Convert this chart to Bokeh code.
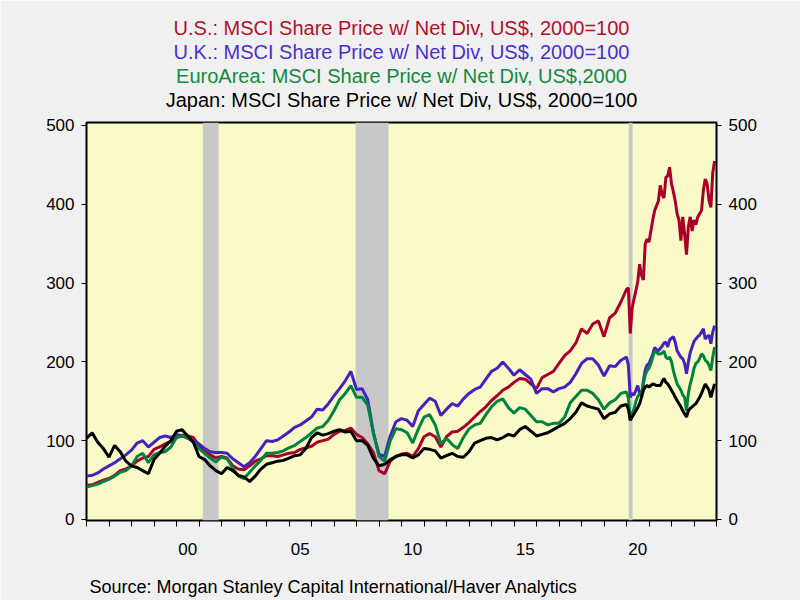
from bokeh.plotting import figure
from bokeh.models import Range1d, FixedTicker, LinearAxis, BoxAnnotation, Title, ColumnDataSource
from bokeh.embed import file_html
from bokeh.resources import INLINE

# ---- data (quarterly 1996-2019, monthly 2020-2023), 2000=100 ----
quarters = [1996 + i / 4 for i in range(96)]
months = [2020 + i / 12 for i in range(48)]
dates = quarters + months

us = [43, 44, 47, 50, 52, 56, 62, 64, 68, 74, 78, 80, 89, 92, 96, 99,
      104, 107, 106, 104, 94, 86, 82, 78, 80, 78, 68, 64, 63, 68, 74, 77,
      81, 81, 80, 82, 84, 85, 89, 91, 93, 98, 100, 102, 108, 112, 113, 116,
      108, 104, 96, 85, 62, 58, 74, 80, 83, 84, 80, 90, 105, 109, 105, 92,
      105, 111, 112, 117, 123, 130, 137, 143, 151, 157, 164, 168, 174, 179, 178, 172,
      166, 180, 184, 188, 198, 208, 214, 224, 242, 236, 248, 252, 232, 256, 262, 276,
      292, 294, 236, 268, 280, 290, 302, 324, 310, 304, 350, 356,
      352, 366, 380, 392, 398, 404, 424, 412, 408, 434, 436, 447,
      426, 416, 404, 388, 380, 354, 384, 362, 336, 372, 384, 366,
      380, 374, 384, 388, 392, 418, 432, 426, 405, 396, 440, 455]

uk = [55, 56, 59, 64, 68, 72, 77, 82, 88, 97, 100, 92, 98, 104, 106, 104,
      108, 106, 103, 100, 96, 90, 86, 85, 85, 84, 77, 72, 67, 72, 80, 90,
      100, 99, 101, 106, 111, 117, 120, 125, 130, 140, 139, 147, 157, 166, 176, 188,
      165, 166, 152, 110, 83, 80, 106, 124, 128, 126, 118, 138, 146, 154, 150, 132,
      140, 147, 144, 153, 160, 165, 168, 178, 188, 192, 200, 192, 183, 190, 184, 178,
      160, 166, 166, 162, 166, 168, 174, 185, 198, 204, 204, 196, 182, 195, 194, 202,
      206, 196, 155, 160, 158, 164, 170, 160, 156, 176, 190, 196,
      198, 204, 210, 218, 216, 214, 217, 220, 224, 225, 219, 228,
      230, 232, 225, 214, 210, 206, 204, 198, 185, 200, 212, 219,
      226, 229, 232, 234, 238, 242, 229, 232, 234, 223, 238, 246]

euro = [41, 43, 45, 48, 51, 55, 60, 62, 68, 80, 84, 72, 82, 85, 86, 92,
        104, 106, 104, 98, 90, 84, 78, 73, 79, 77, 65, 55, 52, 60, 68, 75,
        84, 84, 85, 87, 91, 94, 99, 104, 110, 116, 118, 126, 138, 152, 160, 170,
        155, 155, 145, 110, 80, 74, 100, 115, 114, 110, 97, 115, 130, 133, 120, 96,
        103, 95, 90, 104, 115, 120, 122, 133, 143, 150, 153, 142, 135, 142, 140, 132,
        124, 124, 120, 122, 122, 130, 148, 156, 164, 164, 160, 152, 140, 148, 152, 160,
        162, 154, 126, 134, 140, 150, 156, 160, 158, 172, 184, 189,
        192, 198, 206, 214, 212, 210, 210, 211, 214, 206, 204, 206,
        200, 189, 180, 172, 168, 164, 158, 155, 138, 160, 172, 181,
        192, 198, 200, 204, 210, 208, 202, 200, 196, 189, 206, 219]

japan = [103, 110, 98, 90, 79, 94, 86, 74, 68, 66, 62, 58, 76, 84, 93, 100,
         112, 114, 106, 98, 80, 76, 68, 62, 58, 66, 62, 56, 54, 48, 55, 64,
         70, 72, 74, 75, 78, 81, 82, 90, 104, 110, 107, 109, 112, 114, 111, 112,
         100, 100, 94, 78, 68, 70, 76, 80, 82, 82, 78, 82, 90, 89, 87, 78,
         81, 84, 80, 79, 86, 97, 100, 103, 104, 101, 104, 108, 106, 114, 118, 112,
         106, 108, 110, 114, 118, 122, 128, 136, 148, 144, 142, 140, 128, 134, 136, 144,
         146, 140, 126, 130, 134, 138, 142, 147, 155, 164, 168, 170,
         168, 170, 172, 171, 170, 170, 170, 175, 179, 174, 172, 168,
         164, 160, 155, 151, 147, 143, 138, 134, 130, 138, 141, 143,
         145, 147, 151, 155, 160, 166, 172, 168, 164, 155, 164, 172]

rec_start = [2001.17, 2007.96, 2020.1]
rec_end = [2001.87, 2009.42, 2020.27]

year_ticks = list(range(1996, 2025))
label_years = [2000, 2005, 2010, 2015, 2020]
label_text = ["00", "05", "10", "15", "20"]
y_ticks = [0, 100, 200, 300, 400, 500]

titles = ["U.S.: MSCI Share Price w/ Net Div, US$, 2000=100",
          "U.K.: MSCI Share Price w/ Net Div, US$, 2000=100",
          "EuroArea: MSCI Share Price w/ Net Div, US$,2000",
          "Japan: MSCI Share Price w/ Net Div, US$, 2000=100"]
colors = ["#a8002a", "#4422c0", "#00843d", "#000000"]
title_colors = ["#b0102e", "#4a30cc", "#138a3e", "#000000"]
source_text = "Source:  Morgan Stanley Capital International/Haver Analytics"

FONT = "Liberation Sans"

src = ColumnDataSource(dict(t=dates, us=us, uk=uk, euro=euro, japan=japan))

p = figure(width=800, height=600, output_backend="svg", toolbar_location=None,
           x_range=Range1d(1996, 2024), y_range=Range1d(-1.3, 503.8),
           min_border_left=86, min_border_right=84, min_border_top=122,
           min_border_bottom=80, background_fill_color="#fafac8",
           border_fill_color="#f0f0f0", outline_line_color="black",
           outline_line_width=2)
p.title.text = ""
p.title.visible = False
p.xgrid.visible = False
p.ygrid.visible = False

for s, e in zip(rec_start, rec_end):
    p.add_layout(BoxAnnotation(left=s, right=e, fill_color="#c8c8c8", fill_alpha=1.0,
                               line_color=None, level="underlay"))

for key, c in zip(["us", "uk", "euro", "japan"], colors):
    p.line("t", key, source=src, line_color=c, line_width=3)

# x axis
xa = p.xaxis[0]
xa.ticker = FixedTicker(ticks=[y + 0.5 for y in label_years], minor_ticks=year_ticks)
xa.major_label_overrides = {y + 0.5: t for y, t in zip(label_years, label_text)}
xa.major_tick_line_color = None
xa.major_tick_out = 6
xa.major_tick_in = 0
xa.minor_tick_out = 6
xa.minor_tick_in = 0
xa.minor_tick_line_color = "black"
xa.axis_line_color = None
xa.major_label_standoff = 16
xa.major_label_text_font = FONT
xa.major_label_text_font_size = "17px"
xa.major_label_text_color = "black"
# invisible spacer label to push the source line to the bottom edge
xa.axis_label = " "
xa.axis_label_text_font_size = "1px"
xa.axis_label_standoff = 10

# y axes
ya = p.yaxis[0]
yr = LinearAxis()
p.add_layout(yr, "right")
for ax, so in ((ya, 7), (yr, 7)):
    ax.ticker = FixedTicker(ticks=y_ticks)
    ax.major_tick_out = 5
    ax.major_tick_in = 0
    ax.minor_tick_line_color = None
    ax.axis_line_color = None
    ax.major_tick_line_color = "black"
    ax.major_label_standoff = so
    ax.major_label_text_font = FONT
    ax.major_label_text_font_size = "17px"
    ax.major_label_text_color = "black"

# spacer closest to the plot, then stacked titles (first added sits closest)
p.add_layout(Title(text=" ", text_font_size="1px", standoff=8.5), "above")
for i in (3, 2, 1, 0):
    p.add_layout(Title(text=titles[i], align="center", text_font=FONT,
                       text_font_size="20px", text_font_style="normal",
                       text_color=title_colors[i], standoff=0),
                 "above")

p.add_layout(Title(text=source_text, align="left", offset=3, text_font=FONT,
                   text_font_size="18px", text_font_style="normal",
                   text_color="black", standoff=7), "below")

open("out.html", "w").write(file_html(p, INLINE))
